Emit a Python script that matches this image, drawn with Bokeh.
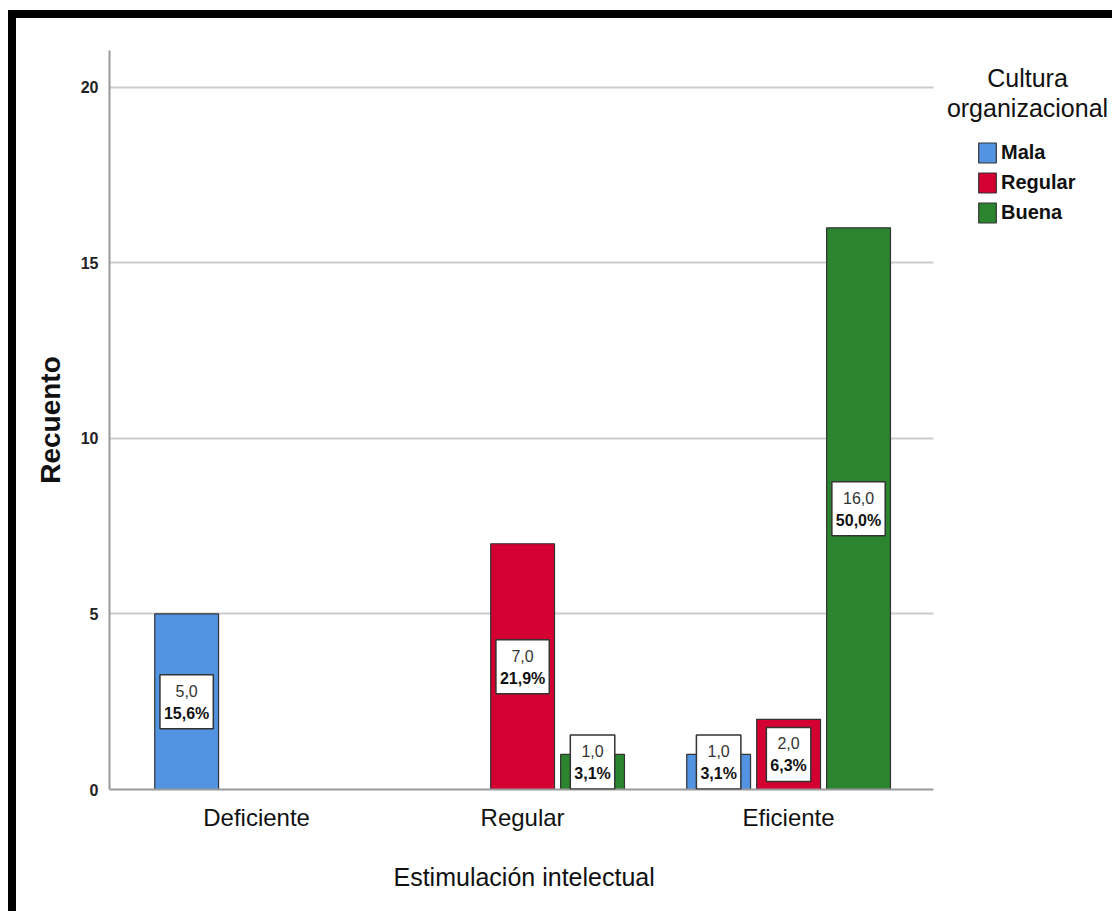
from bokeh.plotting import figure
from bokeh.models import (ColumnDataSource, FixedTicker, Legend, LegendItem, Label,
                          Range1d, BoxAnnotation, Title)
from bokeh.embed import file_html
from bokeh.resources import INLINE

# ---------------- data ----------------
categories = ["Deficiente", "Regular", "Eficiente"]
groups = ["Mala", "Regular", "Buena"]
mala = [5, 0, 1]
regular = [0, 7, 2]
buena = [0, 1, 16]
mala_pct = ["15,6%", "", "3,1%"]
regular_pct = ["", "21,9%", "6,3%"]
buena_pct = ["", "3,1%", "50,0%"]
y_ticks = [0, 5, 10, 15, 20]

colors = ["#5294E2", "#D50032", "#2A852E"]
SANS = "Liberation Sans"

Y_MAX = 21.05
X_START, X_PLOT_END, X_END = -0.553, 2.545, 3.229   # plotting area ends at X_PLOT_END
p = figure(width=1104, height=901, output_backend="svg", toolbar_location=None,
           x_range=Range1d(X_START, X_END), y_range=Range1d(0, Y_MAX),
           min_border_left=93, min_border_right=5, min_border_top=32,
           min_border_bottom=130)
p.styles = {"margin-left": "8px", "margin-top": "10px",
            "border-left": "8px solid black", "border-top": "8px solid black"}
p.outline_line_color = None
p.background_fill_color = "white"
p.border_fill_color = "white"

offsets = [-0.263, 0.0, 0.263]
bar_w = 0.24
series = [mala, regular, buena]
pcts = [mala_pct, regular_pct, buena_pct]
px_per_unit = 739 / Y_MAX

items = []
labels = []
for k, (name, vals, pct, col) in enumerate(zip(groups, series, pcts, colors)):
    xs = [i + offsets[k] for i, v in enumerate(vals) if v > 0]
    tops = [v for v in vals if v > 0]
    pcs = [pc for v, pc in zip(vals, pct) if v > 0]
    src = ColumnDataSource(dict(x=xs, top=tops))
    r = p.vbar(x="x", top="top", width=bar_w, source=src, fill_color=col,
               line_color="#333333", line_width=1.2)
    items.append(LegendItem(label=name, renderers=[r]))
    for x, v, pc in zip(xs, tops, pcs):
        lift = max(0, round(27.5 - v * px_per_unit / 2))
        labels.append(Label(x=x, y=v / 2, text=pc, y_offset=lift,
                            text_align="center", text_baseline="middle",
                            text_font=SANS, text_font_size="16px",
                            text_font_style="bold", text_color="#111111",
                            background_fill_color="white",
                            border_line_color="#333333", border_line_width=1.5,
                            padding=dict(left=4, right=4, top=30, bottom=7)))
        labels.append(Label(x=x, y=v / 2, text=f"{v:.1f}".replace(".", ","),
                            y_offset=lift + 11, text_align="center",
                            text_baseline="middle", text_font=SANS,
                            text_font_size="16px", text_color="#333333"))

# white cover for the area right of the plotting region (legend area)
p.add_layout(BoxAnnotation(left=X_PLOT_END, fill_color="white", fill_alpha=1,
                           line_color=None))
for lb in labels:
    p.add_layout(lb)

# ---------------- axes ----------------
p.xaxis.ticker = FixedTicker(ticks=[0, 1, 2])
p.xaxis.bounds = (X_START, X_PLOT_END)
p.xaxis.major_label_overrides = {i: c for i, c in enumerate(categories)}
p.xaxis.major_tick_line_color = None
p.xaxis.minor_tick_line_color = None
p.xaxis.axis_line_color = "#999999"
p.xaxis.axis_line_width = 2
p.xaxis.major_label_text_font = SANS
p.xaxis.major_label_text_font_size = "24px"
p.xaxis.major_label_text_color = "#111111"
p.xaxis.major_label_standoff = 8

# x-axis title, centred under the plotting region (not under the legend area)
p.add_layout(Title(text="Estimulación intelectual", align="left", offset=284,
                   standoff=55, text_font=SANS, text_font_size="25px",
                   text_font_style="normal", text_color="#111111"), "below")

p.yaxis.ticker = FixedTicker(ticks=y_ticks)
p.yaxis.major_tick_line_color = None
p.yaxis.minor_tick_line_color = None
p.yaxis.axis_line_color = "#999999"
p.yaxis.axis_line_width = 2
p.yaxis.major_label_text_font = SANS
p.yaxis.major_label_text_font_size = "16px"
p.yaxis.major_label_text_font_style = "bold"
p.yaxis.major_label_text_color = "#222222"
p.yaxis.major_label_standoff = 5
p.yaxis.axis_label = "Recuento"
p.yaxis.axis_label_text_font = SANS
p.yaxis.axis_label_text_font_size = "28px"
p.yaxis.axis_label_text_font_style = "bold"
p.yaxis.axis_label_text_color = "#111111"
p.yaxis.axis_label_standoff = 12

p.xgrid.grid_line_color = None
p.ygrid.grid_line_color = "#cccccc"
p.ygrid.grid_line_width = 2

# ---------------- legend ----------------
legend = Legend(items=items, location=(867, 564), glyph_width=22, glyph_height=25,
                label_height=20, spacing=5, padding=0, margin=0,
                border_line_color=None, background_fill_alpha=0,
                label_text_font=SANS, label_text_font_size="20px",
                label_text_font_style="bold", label_text_color="#111111",
                label_standoff=3)
p.add_layout(legend)

for txt, yy in [("Cultura", 712), ("organizacional", 682)]:
    p.add_layout(Label(x=918, y=yy, x_units="screen", y_units="screen", text=txt,
                       text_align="center", text_baseline="middle",
                       text_font=SANS, text_font_size="25px", text_color="#111111"))

open("out.html", "w").write(file_html(p, INLINE))
